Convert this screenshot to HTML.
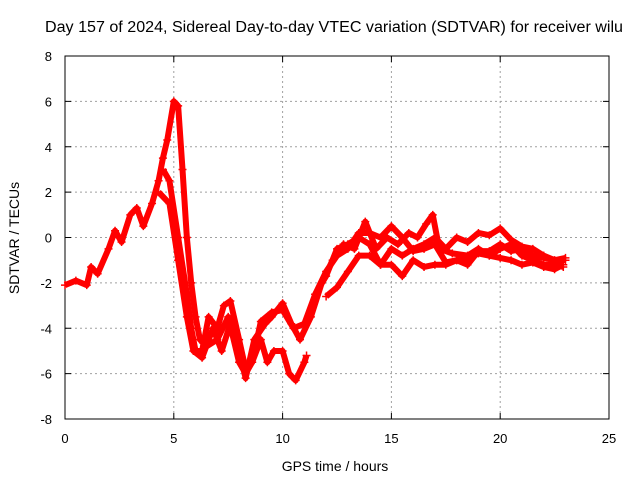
<!DOCTYPE html>
<html><head><meta charset="utf-8"><style>
body{margin:0;background:#fff}
svg{display:block;font-family:"Liberation Sans",sans-serif}
</style></head><body>
<svg id="chart" width="640" height="480">
<text x="45" y="32" font-size="15.5" textLength="578" lengthAdjust="spacingAndGlyphs">Day 157 of 2024, Sidereal Day-to-day VTEC variation (SDTVAR) for receiver wilu</text>
<g id="grid"></g>
<g id="axes"></g>
<g id="series"></g>
<text x="335" y="471" text-anchor="middle" font-size="14">GPS time / hours</text>
<text transform="translate(19,238) rotate(-90)" text-anchor="middle" font-size="14">SDTVAR / TECUs</text>
</svg>
<script>
const xTicks=[0,5,10,15,20,25];
const yTicks=[-8,-6,-4,-2,0,2,4,6,8];
const track1X=[0,0.5,1,1.2,1.5,2,2.3,2.6,3,3.3,3.6,4,4.3,4.5,4.7,5.0,5.2,5.4,5.6,5.8,6.0,6.2,6.5,7,7.5,8,8.3,8.6,9,9.3,9.6,10,10.3,10.6,11,11.1];
const track1Y=[-2.1,-1.9,-2.1,-1.3,-1.6,-0.5,0.3,-0.2,1,1.3,0.5,1.5,2.5,3.5,4.3,6.0,5.8,3,0,-2,-3.5,-4.5,-4.8,-4.5,-3.5,-5.5,-6,-5.5,-4.5,-5.5,-5,-5,-6,-6.3,-5.5,-5.2];
const track2X=[4.5,4.8,5.2,5.6,5.8,6,6.3,6.6,7,7.3,7.6,8,8.3,8.6,9,9.5,10,10.5,11,11.5,12,12.5,13,13.5,14,14.5,15,15.5,16,16.5,17,17.5,18,18.5,19,19.5,20,20.5,21,21.5,22,22.5,23];
const track2Y=[3,2.5,0,-2.5,-4,-5,-5,-3.5,-4,-3,-2.8,-4.5,-5.8,-5.5,-3.7,-3.3,-3.2,-4,-3.8,-2.5,-1.7,-0.5,-0.3,0,-0.3,-1.2,-0.5,-0.8,-0.5,-0.3,0,-0.5,0,-0.2,0.2,0.1,0.4,-0.1,-0.4,-0.5,-0.8,-1,-1];
const track3X=[4.3,4.8,5.2,5.6,5.9,6.3,6.8,7.2,7.6,8,8.3,8.7,9.2,9.5,10,10.4,10.8,11.3,11.8,12.3,12.8,13.3,13.8,14.3,14.8,15.3,15.8,16.2,16.6,16.9,17.2,17.8,18.5,19,19.5,20,20.5,21,21.5,22,22.5,22.9];
const track3Y=[2,1.5,-1,-3.5,-5,-5.3,-4,-5,-3.8,-5,-6.2,-4.5,-3.8,-3.5,-2.9,-3.8,-4.5,-3.5,-2,-1,-0.3,-0.5,0.7,-0.5,0,-0.3,0.2,0,0.6,1,-0.5,-0.7,-0.8,-0.5,-0.8,-0.5,-0.3,-0.8,-1,-1.2,-1.2,-1.3];
const track4X=[12,12.5,13,13.5,14,14.5,15,15.5,16,16.5,17,17.5,18,18.5,19,19.5,20,20.5,21,21.5,22,22.5,22.9];
const track4Y=[-2.6,-2.2,-1.5,-0.8,-0.8,-1.2,-1.2,-1.7,-1,-1.3,-1.2,-1.2,-1,-0.9,-0.7,-0.8,-0.9,-1,-1.2,-1.1,-1.3,-1.4,-1.2];
const track5X=[11.5,12,12.5,13,13.5,14,14.5,15,15.5,16,16.5,17,17.5,18,18.5,19,19.5,20,20.5,21,21.5,22,22.5,23];
const track5Y=[-2.5,-1.5,-0.8,-0.5,0.2,0.2,0,0.5,0,-0.6,-0.5,-0.3,-1.1,-1,-1.2,-0.6,-0.6,-0.3,-0.6,-0.5,-0.8,-0.9,-1.0,-0.9];

const L=65,R=609,T=56,B=419;
const sx=v=>L+(v-0)/(25-0)*(R-L);
const sy=v=>B-(v+8)/16*(B-T);
const NS="http://www.w3.org/2000/svg";
function mk(tag,parent,attrs){const e=document.createElementNS(NS,tag);for(const k in attrs)e.setAttribute(k,attrs[k]);parent.appendChild(e);return e;}
const grid=document.getElementById('grid'),axes=document.getElementById('axes'),ser=document.getElementById('series');
xTicks.forEach(t=>{
 const x=sx(t);
 if(t>0&&t<25){const g=mk('line',grid,{x1:x,x2:x,y1:T,y2:B,stroke:'#a0a0a0','stroke-dasharray':'2,3','stroke-width':1});
 
 }
 const lb=mk('text',axes,{x:x,y:B+24,'text-anchor':'middle','font-size':13});
 lb.textContent=t;
 
 
 mk('line',axes,{x1:x,x2:x,y1:B,y2:B-6,stroke:'#000'});mk('line',axes,{x1:x,x2:x,y1:T,y2:T+6,stroke:'#000'});
});
yTicks.forEach(t=>{
 const y=sy(t);
 if(t>-8&&t<8){const g=mk('line',grid,{x1:L,x2:R,y1:y,y2:y,stroke:'#a0a0a0','stroke-dasharray':'2,3','stroke-width':1});
 
 }
 const lb=mk('text',axes,{x:L-13,y:y+5,'text-anchor':'end','font-size':13});
 lb.textContent=t;
 
 
 mk('line',axes,{x1:L,x2:L+6,y1:y,y2:y,stroke:'#000'});mk('line',axes,{x1:R,x2:R-6,y1:y,y2:y,stroke:'#000'});
});
const fr=mk('rect',axes,{x:L,y:T,width:R-L,height:B-T,fill:'none',stroke:'#000'});


[[track1X,track1Y],[track2X,track2Y],[track3X,track3Y],[track4X,track4Y],[track5X,track5Y]].forEach((tr,i)=>{
 const pts=tr[0].map((x,j)=>sx(x)+','+sy(tr[1][j])).join(' ');
 const pl=mk('polyline',ser,{points:pts,fill:'none',stroke:'#ff0000','stroke-width':6,'stroke-linejoin':'round'});
 
 
 tr[0].forEach((x,j)=>{
  const cx=sx(x),cy=sy(tr[1][j]);
  const p=mk('path',ser,{d:`M${cx-4},${cy}H${cx+4}M${cx},${cy-4}V${cy+4}`,stroke:'#ff0000','stroke-width':1.5});
  
  
 });
});
</script>
</body></html>
